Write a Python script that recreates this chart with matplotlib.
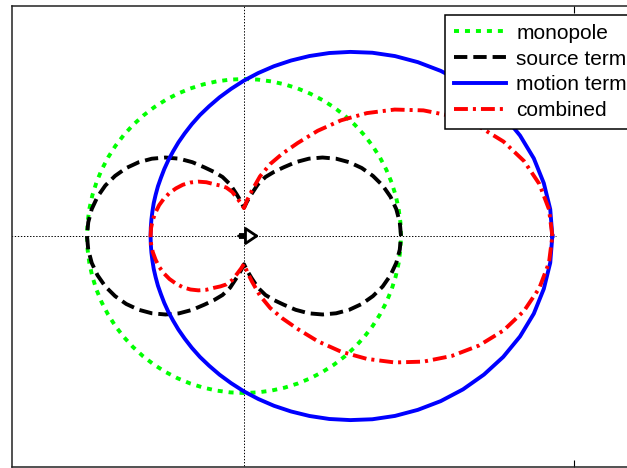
import numpy as np
import matplotlib
matplotlib.use("Agg")
import matplotlib.pyplot as plt

plt.rcParams["font.family"] = ["Liberation Sans", "DejaVu Sans"]
plt.rcParams["lines.scale_dashes"] = False

# Directivity patterns, upper half (0..180 deg); the lower half is the mirror image
angles_deg = np.arange(0, 181, 5)

monopole = [1.00] * len(angles_deg)

source_term = [1.000, 0.996, 0.985, 0.966, 0.940, 0.906, 0.866, 0.819, 0.766, 0.707,
               0.643, 0.574, 0.505, 0.450, 0.400, 0.340, 0.270, 0.220, 0.180,
               0.220, 0.270, 0.340, 0.400, 0.450, 0.505, 0.574, 0.643, 0.707,
               0.766, 0.819, 0.866, 0.906, 0.940, 0.966, 0.985, 0.996, 1.000]

motion_term = [1.964, 1.958, 1.939, 1.911, 1.871, 1.822, 1.765, 1.703, 1.636, 1.566,
               1.496, 1.425, 1.354, 1.286, 1.220, 1.157, 1.098, 1.042, 0.990,
               0.941, 0.897, 0.856, 0.820, 0.786, 0.755, 0.728, 0.703, 0.682,
               0.663, 0.646, 0.633, 0.621, 0.612, 0.604, 0.599, 0.596, 0.595]

combined = [1.964, 1.950, 1.910, 1.846, 1.759, 1.651, 1.528, 1.395, 1.253, 1.107,
            0.962, 0.818, 0.684, 0.579, 0.488, 0.393, 0.296, 0.229, 0.178,
            0.207, 0.242, 0.291, 0.328, 0.354, 0.381, 0.418, 0.452, 0.482,
            0.508, 0.529, 0.548, 0.563, 0.575, 0.583, 0.590, 0.594, 0.595]

labels = ["monopole", "source term", "motion term", "combined"]

# source motion direction arrow (data units)
arrow_tail = (-0.035, 0.0)
arrow_tip = (0.096, 0.0)
axis_line_extent = 1.99
xtick_positions = [2.1]


def closed_curve(r_half):
    r_half = np.asarray(r_half, dtype=float)
    theta = np.deg2rad(np.concatenate([angles_deg, 360 - angles_deg[::-1][1:]]))
    r = np.concatenate([r_half, r_half[::-1][1:]])
    return r * np.cos(theta), r * np.sin(theta)


W, H = 627, 468
fig = plt.figure(figsize=(W / 100, H / 100), dpi=100)
ax_left, ax_right, ax_top, ax_bottom = 11.5, 662.0, 5.5, 466.5
ax = fig.add_axes([ax_left / W, (H - ax_bottom) / H,
                   (ax_right - ax_left) / W, (ax_bottom - ax_top) / H])

# coordinate axes through the origin
ax.plot([-axis_line_extent, axis_line_extent], [0, 0], color="black",
        lw=0.7, linestyle=(0, (1.0, 1.2)), zorder=1)
ax.plot([0, 0], [-axis_line_extent, axis_line_extent], color="black",
        lw=0.7, linestyle=(0, (1.0, 1.2)), zorder=1)

lw = 2.8
styles = [
    dict(color=(0, 1, 0), dashes=(3.6, 4.3)),
    dict(color="black", dashes=(9.6, 4.3)),
    dict(color=(0, 0, 1), linestyle="-"),
    dict(color=(1, 0, 0), dashes=(10.0, 3.6, 2.2, 3.6)),
]
series = [monopole, source_term, motion_term, combined]
handles = []
for r_half, st, lab in zip(series, styles, labels):
    x, y = closed_curve(r_half)
    (h,) = ax.plot(x, y, lw=lw, label=lab, dash_capstyle="butt",
                   solid_joinstyle="round", zorder=2, **st)
    handles.append(h)

# shaft and open head of the motion arrow
ax.annotate("", xy=arrow_tip, xytext=arrow_tail,
            arrowprops=dict(arrowstyle="-|>,head_length=0.4,head_width=0.27",
                            mutation_scale=20, lw=2.0, color="black",
                            fc="white", ec="black", shrinkA=0, shrinkB=0),
            zorder=4)
ax.plot([arrow_tail[0], arrow_tail[0] + 0.055], [0, 0], color="black",
        lw=4.2, solid_capstyle="butt", zorder=3)

ax.set_xlim(-(244 - ax_left) / 157.0, (ax_right - 244) / 157.0)
ax.set_ylim(-(ax_bottom - 236) / 157.0, (236 - ax_top) / 157.0)

ax.set_xticks(xtick_positions)
ax.set_xticklabels([])
ax.set_yticks([])
ax.tick_params(axis="x", direction="in", length=5, width=0.8, top=True,
               bottom=True, color="black")
for sp in ax.spines.values():
    sp.set_linewidth(1.1)
    sp.set_color("#222222")

leg = ax.legend(handles=handles, loc="upper left",
                bbox_to_anchor=(445 / W, 1 - 15 / H),
                bbox_transform=fig.transFigure, borderaxespad=0,
                fontsize=15, handlelength=2.5, handletextpad=0.5,
                labelspacing=0.33, borderpad=0.42, fancybox=False,
                framealpha=1, edgecolor="black")
leg.get_frame().set_linewidth(1.1)

fig.savefig("out.png", dpi=100)
